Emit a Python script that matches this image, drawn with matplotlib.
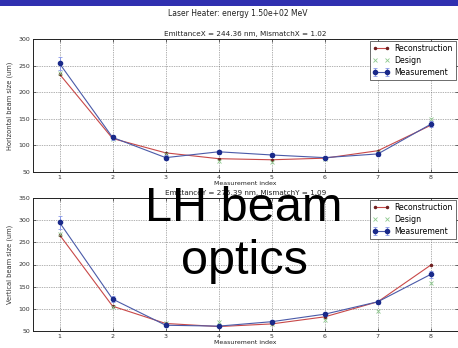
import matplotlib
matplotlib.use("Agg")
import matplotlib.pyplot as plt
from matplotlib.patches import Rectangle

idx = [1, 2, 3, 4, 5, 6, 7, 8]
x_tick_labels = ["1", "2", "3", "4", "5", "6", "7", "8"]

# Horizontal plane
h_recon = [234, 113, 86, 75, 73, 76, 90, 138]
h_design = [236, 112, 83, 70, 68, 74, 88, 149]
h_meas = [254, 115, 77, 88, 82, 77, 84, 140]
h_err = [12, 5, 5, 4, 4, 3, 4, 5]

# Vertical plane
v_recon = [267, 106, 67, 60, 66, 82, 116, 199]
v_design = [268, 105, 68, 71, 65, 74, 96, 158]
v_meas = [295, 122, 63, 61, 71, 88, 116, 178]
v_err = [14, 6, 4, 3, 3, 4, 4, 8]

suptitle = "Laser Heater: energy 1.50e+02 MeV"
title_x = "EmittanceX = 244.36 nm, MismatchX = 1.02"
title_y = "EmittanceY = 275.39 nm, MismatchY = 1.09"
overlay_1 = "LH beam"
overlay_2 = "optics"

fig = plt.figure(figsize=(4.58, 3.48), dpi=100)
fig.patch.set_facecolor("white")

# slide banner
fig.add_artist(Rectangle((0, 1 - 5.5 / 348), 1, 5.5 / 348, transform=fig.transFigure,
                         facecolor="#3030b0", edgecolor="none", zorder=0))

W, H = 458.0, 348.0
def ax_rect(l, r, t, b):
    return [l / W, 1 - b / H, (r - l) / W, (b - t) / H]

ax1 = fig.add_axes(ax_rect(33, 457.5, 39, 172))
ax2 = fig.add_axes(ax_rect(33, 457.5, 198, 331))

recon_c = "#c84848"
design_c = "#8cc88c"
meas_c = "#1a2a8a"
meas_line = "#4a5aa8"
err_c = "#8898e8"

def draw(ax, recon, design, meas, err, ylim, title, ylabel):
    ax.plot(idx, recon, color=recon_c, lw=0.8, marker=".", ms=3,
            mfc="#702020", mec="#702020", label="Reconstruction", zorder=3)
    ax.plot(idx, design, ls="none", marker="x", ms=3, mew=0.6,
            color=design_c, label="Design", zorder=3)
    ax.errorbar(idx, meas, yerr=err, color=meas_line, lw=0.8, marker="o", ms=3,
                mfc=meas_c, mec=meas_c, ecolor=err_c, elinewidth=0.7,
                capsize=1.5, capthick=0.6, label="Measurement", zorder=4)
    ax.set_xlim(0.5, 8.5)
    ax.set_ylim(*ylim)
    ax.set_xticks(idx)
    ax.set_xticklabels(x_tick_labels)
    ax.set_yticks(range(ylim[0], ylim[1] + 1, 50))
    ax.tick_params(direction="in", labelsize=4.5, length=2.5, width=0.5,
                   top=True, right=True, pad=2, colors="#333333")
    ax.grid(True, ls=(0, (1, 1.5)), color="#666666", lw=0.5)
    for s in ax.spines.values():
        s.set_linewidth(0.7)
        s.set_color("#222222")
    ax.set_title(title, fontsize=5.2, pad=2.5, color="#222222")
    ax.set_xlabel("Measurement index", fontsize=4.5, labelpad=1, color="#222222")
    ax.set_ylabel(ylabel, fontsize=4.8, labelpad=4, color="#333333")
    leg = ax.legend(loc="upper right", fontsize=5.6, numpoints=2, handlelength=2.2,
                    borderpad=0.35, labelspacing=0.4, handletextpad=0.6,
                    fancybox=False, framealpha=1, borderaxespad=0.25)
    leg.get_frame().set_edgecolor("#333333")
    leg.get_frame().set_linewidth(0.5)

draw(ax1, h_recon, h_design, h_meas, h_err, (50, 300), title_x,
     "Horizontal beam size (um)")
draw(ax2, v_recon, v_design, v_meas, v_err, (50, 350), title_y,
     "Vertical beam size (um)")

fig.text(238 / W, 1 - 13 / H, suptitle, fontsize=5.5, ha="center", va="center",
         color="#222222")

fig.text(244 / W, 1 - 221 / H, overlay_1, fontsize=35, ha="center", va="baseline",
         family="Liberation Sans", color="black", zorder=10)
fig.text(244 / W, 1 - 274 / H, overlay_2, fontsize=35, ha="center", va="baseline",
         family="Liberation Sans", color="black", zorder=10)

fig.savefig("out.png", dpi=100)
